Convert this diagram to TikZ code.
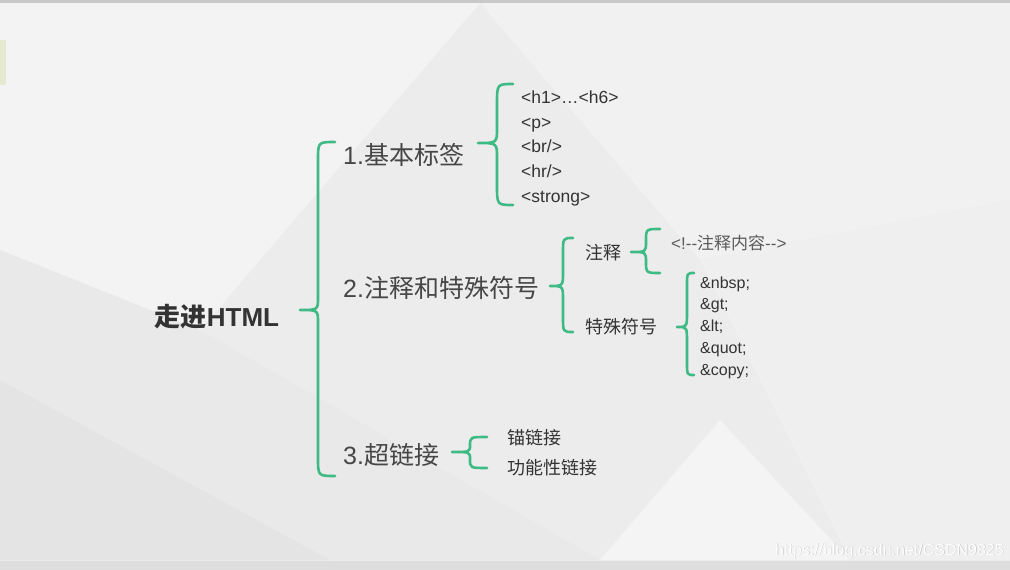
\documentclass[tikz,border=0pt]{standalone}
\usepackage{fontspec}
\setmainfont{Liberation Sans}
\newfontfamily\cjk{Noto Sans CJK SC}
\definecolor{bgc}{RGB}{236,236,236}
\definecolor{brc}{RGB}{62,186,132}
\definecolor{txt}{RGB}{51,51,51}
\definecolor{txtl}{RGB}{70,70,70}
\definecolor{txtc}{RGB}{90,90,90}
\definecolor{fa}{RGB}{243,243,243}
\definecolor{fb}{RGB}{241,241,241}
\definecolor{fc}{RGB}{233,233,233}
\definecolor{fd}{RGB}{228,228,228}
\definecolor{fe}{RGB}{239,239,239}
\definecolor{ff}{RGB}{244,244,244}
\definecolor{topb}{RGB}{200,200,200}
\definecolor{botb}{RGB}{222,222,222}
\definecolor{lgr}{RGB}{228,233,208}
% #1 tip x, #2 tip y, #3 vertical x, #4 end x, #5 top y, #6 bottom y, #7 end radius, #8 tip radius
\newcommand\brc[8]{%
  \draw[bracestyle] (#4,#5) .. controls (#3,#5) and (#3,#5) .. (#3,#5+#7) -- (#3,#2-#8)
    .. controls (#3,#2) and (#3,#2) .. (#1,#2) .. controls (#3,#2) and (#3,#2) .. (#3,#2+#8)
    -- (#3,#6-#7) .. controls (#3,#6) and (#3,#6) .. (#4,#6);}
\begin{document}
\begin{tikzpicture}[x=1pt,y=-1pt,
  bracestyle/.style={draw=brc,line width=2.6pt,line cap=round,line join=round},
  big/.style={anchor=west,inner sep=0pt,text=txtl,font=\fontsize{25}{28}\selectfont},
  mid/.style={anchor=west,inner sep=0pt,text=txt,font=\fontsize{18}{22}\selectfont\cjk},
  leaf/.style={anchor=west,inner sep=0pt,text=txt,text height=0.75em,text depth=0.22em,font=\fontsize{17.5}{20}\selectfont},
  sleaf/.style={anchor=west,inner sep=0pt,text=txt,text height=0.75em,text depth=0.22em,font=\fontsize{16}{19}\selectfont}]
\useasboundingbox (0,0) rectangle (1010,570);
% background
\fill[bgc] (0,0) rectangle (1010,570);
\fill[fa] (0,3) -- (480,3) -- (200,330) -- (0,250) -- cycle;
\fill[fb] (480,3) -- (1010,3) -- (1010,200) -- (700,260) -- cycle;
\fill[fc] (0,250) -- (200,330) -- (600,560) -- (330,560) -- (0,380) -- cycle;
\fill[fd] (0,380) -- (330,560) -- (0,560) -- cycle;
\fill[fe] (700,260) -- (1010,200) -- (1010,560) -- (850,560) -- cycle;
\fill[ff] (600,560) -- (850,560) -- (720,420) -- cycle;
\fill[topb] (0,0) rectangle (1010,3);
\fill[botb] (0,561) rectangle (1010,570);
\fill[lgr] (0,40) rectangle (6,85);
% root
\node[inner sep=0pt,text=txt,font=\fontsize{26}{28}\selectfont\bfseries] (root) at (217,317) {{\cjk\bfseries 走进}HTML};
% level 1
\node[big] (n1) at (343,155) {1.{\cjk 基本标签}};
\node[big] (n2) at (343,288) {2.{\cjk 注释和特殊符号}};
\node[big] (n3) at (343,455) {3.{\cjk 超链接}};
\brc{300}{310}{318}{335}{142}{476}{18}{13}
% group 1
\brc{478}{143}{497}{513}{84}{205}{20}{15}
\node[leaf] (a1) at (521,101) {<h1>\ldots<h6>};
\node[leaf] (a2) at (521,126) {<p>};
\node[leaf] (a3) at (521,150) {<br/>};
\node[leaf] (a4) at (521,175) {<hr/>};
\node[leaf] (a5) at (521,200) {<strong>};
% group 2
\brc{550}{286}{563}{573}{238}{332}{15}{14}
\node[mid] (b1) at (585,253) {注释};
\node[mid] (b2) at (585,327) {特殊符号};
\brc{631}{252}{646}{660}{229}{273}{12}{10}
\node[anchor=west,inner sep=0pt,text=txtc,font=\fontsize{17}{19}\selectfont] (c1) at (671,243) {<!-{}-{\cjk 注释内容}-{}->};
\brc{677}{327}{687}{694}{273}{375}{13}{15}
\node[sleaf] (d1) at (700,286) {\&nbsp;};
\node[sleaf] (d2) at (700,307) {\&gt;};
\node[sleaf] (d3) at (700,329) {\&lt;};
\node[sleaf] (d4) at (700,351) {\&quot;};
\node[sleaf] (d5) at (700,373) {\&copy;};
% group 3
\brc{452}{452}{470}{487}{437}{468}{9}{7}
\node[mid] (e1) at (507,438) {锚链接};
\node[mid] (e2) at (507,468) {功能性链接};
% watermark
\node[anchor=east,inner sep=0pt,text=gray!45,font=\fontsize{16}{18}\selectfont] at (1004.6,551.6) {https://blog.csdn.net/CSDN9825};
\node[anchor=east,inner sep=0pt,text=white,font=\fontsize{16}{18}\selectfont] (wm) at (1004,551) {https://blog.csdn.net/CSDN9825};
\end{tikzpicture}
\end{document}
